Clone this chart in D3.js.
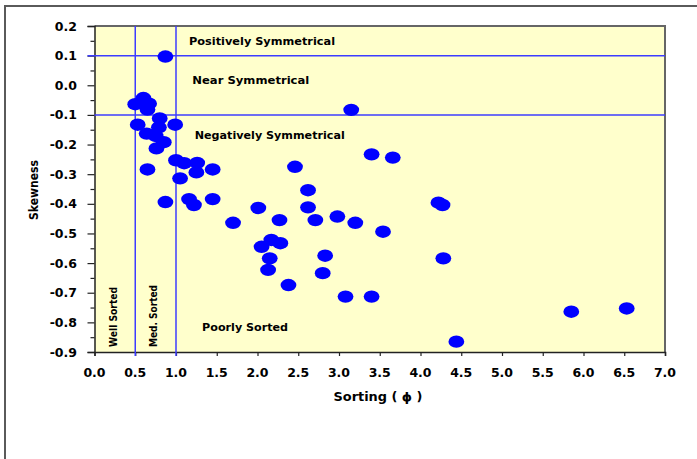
<!DOCTYPE html>
<html>
<head>
<meta charset="utf-8">
<script src="https://cdn.jsdelivr.net/npm/d3@7"></script>
<style>
  html, body { margin: 0; padding: 0; background: #fff; }
  svg { display: block; }
  text { font-family: "DejaVu Sans", Verdana, sans-serif; font-weight: bold; fill: #000; }
</style>
</head>
<body>
<svg id="chart" width="697" height="459"></svg>
<script>
// Grain-size statistics: sorting (phi) vs skewness for each sample
const sorting = [0.87, 0.60, 0.50, 0.67, 0.65, 3.15, 0.80, 0.53, 0.99, 0.79,
  0.64, 0.75, 0.85, 0.76, 0.65, 1.00, 1.10, 1.26, 1.25, 1.45,
  1.05, 2.46, 2.62, 3.40, 3.66, 0.87, 1.16, 1.22, 1.45, 2.01,
  1.70, 2.27, 2.62, 2.71, 2.98, 2.05, 2.17, 2.28, 2.15, 2.13,
  2.83, 2.80, 2.38, 3.08, 3.20, 3.54, 4.22, 4.27, 4.28, 3.40,
  5.85, 6.53, 4.44];
const skewness = [0.097, -0.043, -0.064, -0.062, -0.082, -0.083, -0.112, -0.133, -0.133, -0.142,
  -0.163, -0.171, -0.192, -0.213, -0.284, -0.253, -0.263, -0.262, -0.294, -0.284,
  -0.314, -0.275, -0.354, -0.233, -0.244, -0.394, -0.384, -0.404, -0.384, -0.414,
  -0.464, -0.455, -0.412, -0.455, -0.443, -0.545, -0.522, -0.533, -0.584, -0.623,
  -0.575, -0.634, -0.674, -0.713, -0.464, -0.494, -0.396, -0.404, -0.584, -0.713,
  -0.764, -0.753, -0.865];

// Class boundaries
const sortingBounds = [0.5, 1.0];
const skewBounds = [0.1, -0.1];

// Axis ticks
const xTicks = [0.0, 0.5, 1.0, 1.5, 2.0, 2.5, 3.0, 3.5, 4.0, 4.5, 5.0, 5.5, 6.0, 6.5, 7.0];
const yTicks = [0.2, 0.1, 0.0, -0.1, -0.2, -0.3, -0.4, -0.5, -0.6, -0.7, -0.8, -0.9];
const yMinorTicks = [0.15, 0.05, -0.05, -0.15, -0.25, -0.35, -0.45, -0.55, -0.65, -0.75, -0.85];

// Zone labels
const skewZoneLabels = [
  { text: "Positively Symmetrical", x: 1.16, y: 0.137, w: 146 },
  { text: "Near Symmetrical", x: 1.2, y: 0.004, w: 117 },
  { text: "Negatively Symmetrical", x: 1.23, y: -0.180, w: 150 }
];
const sortZoneLabels = [
  { text: "Well Sorted", x: 0.28, y: -0.883, w: 60 },
  { text: "Med. Sorted", x: 0.77, y: -0.883, w: 62 }
];
const poorLabel = { text: "Poorly Sorted", x: 1.32, y: -0.828, w: 86 };

(function () {
  const svg = d3.select("#chart");

  // Outer frame (top and left edges)
  svg.append("path")
    .attr("d", "M5,460 V6 H698")
    .attr("fill", "none").attr("stroke", "#5a5a5a").attr("stroke-width", 2);

  const pLeft = 94.5, pTop = 26, pRight = 665, pBottom = 352;
  const x = d3.scaleLinear().domain([0, 7]).range([pLeft, pRight]);
  const y = d3.scaleLinear().domain([-0.9, 0.2]).range([pBottom, pTop]);

  // Plot background
  svg.append("rect")
    .attr("x", pLeft).attr("y", pTop)
    .attr("width", pRight - pLeft).attr("height", pBottom - pTop)
    .attr("fill", "#FFFFCC");

  // Top and right plot border
  svg.append("path")
    .attr("d", `M${pLeft},${pTop} H${pRight} V${pBottom}`)
    .attr("fill", "none").attr("stroke", "#666").attr("stroke-width", 2);

  // Y axis
  const yAxis = d3.axisLeft(y).tickValues(yTicks).tickSize(7).tickFormat("");
  const gy = svg.append("g").attr("transform", `translate(${pLeft},0)`).call(yAxis);
  gy.select(".domain").attr("stroke", "#222").attr("stroke-width", 1.5);
  gy.selectAll(".tick line").attr("stroke", "#222").attr("stroke-width", 1.2);
  const yMinor = d3.axisLeft(y).tickValues(yMinorTicks).tickSize(4).tickFormat("");
  const gym = svg.append("g").attr("transform", `translate(${pLeft},0)`).call(yMinor);
  gym.select(".domain").remove();
  gym.selectAll(".tick line").attr("stroke", "#222").attr("stroke-width", 1.2);

  svg.append("g").selectAll("text").data(yTicks).join("text")
    .attr("x", 77).attr("y", d => y(d) + 4.5)
    .attr("text-anchor", "end")
    .style("font-size", "12.5px")
    .text(d => d3.format(".1f")(d).replace("\u2212", "-"));

  // X axis
  const xAxis = d3.axisBottom(x).tickValues(xTicks).tickSize(4).tickFormat("");
  const gx = svg.append("g").attr("transform", `translate(0,${pBottom})`).call(xAxis);
  gx.select(".domain").attr("stroke", "#222").attr("stroke-width", 1.5);
  gx.selectAll(".tick line").attr("stroke", "#222").attr("stroke-width", 1.2);

  svg.append("g").selectAll("text").data(xTicks).join("text")
    .attr("x", d => x(d)).attr("y", 377)
    .attr("text-anchor", "middle")
    .style("font-size", "12.5px")
    .text(d => d3.format(".1f")(d));

  // Class boundary lines
  const lineColor = "#3c3cff";
  svg.append("g").selectAll("line").data(skewBounds).join("line")
    .attr("x1", (d, i) => i === 0 ? x(0) - 7 : x(0)).attr("x2", x(7))
    .attr("y1", d => y(d)).attr("y2", d => y(d))
    .attr("stroke", lineColor).attr("stroke-width", 1.5);
  svg.append("g").selectAll("line").data(sortingBounds).join("line")
    .attr("x1", d => x(d)).attr("x2", d => x(d))
    .attr("y1", y(0.2)).attr("y2", y(-0.9) + 4)
    .attr("stroke", lineColor).attr("stroke-width", 1.5);

  // Zone labels
  svg.append("g").selectAll("text").data(skewZoneLabels.concat([poorLabel])).join("text")
    .attr("x", d => x(d.x)).attr("y", d => y(d.y))
    .attr("textLength", d => d.w).attr("lengthAdjust", "spacingAndGlyphs")
    .style("font-size", "11px")
    .text(d => d.text);

  svg.append("g").selectAll("text").data(sortZoneLabels).join("text")
    .attr("transform", d => `translate(${x(d.x)},${y(d.y)}) rotate(-90)`)
    .attr("textLength", d => d.w).attr("lengthAdjust", "spacingAndGlyphs")
    .style("font-size", "11px")
    .text(d => d.text);

  // Samples
  svg.append("g").selectAll("ellipse").data(sorting).join("ellipse")
    .attr("cx", d => x(d))
    .attr("cy", (d, i) => y(skewness[i]))
    .attr("rx", 7.9).attr("ry", 6.2)
    .attr("fill", "#0000ff");

  // Axis titles
  svg.append("text")
    .attr("x", 378).attr("y", 401)
    .attr("text-anchor", "middle")
    .attr("textLength", 89).attr("lengthAdjust", "spacingAndGlyphs")
    .style("font-size", "12px")
    .text("Sorting ( ϕ )");

  svg.append("text")
    .attr("transform", "translate(38,190) rotate(-90)")
    .attr("text-anchor", "middle")
    .attr("textLength", 60).attr("lengthAdjust", "spacingAndGlyphs")
    .style("font-size", "12px")
    .text("Skewness");
})();
</script>
</body>
</html>
